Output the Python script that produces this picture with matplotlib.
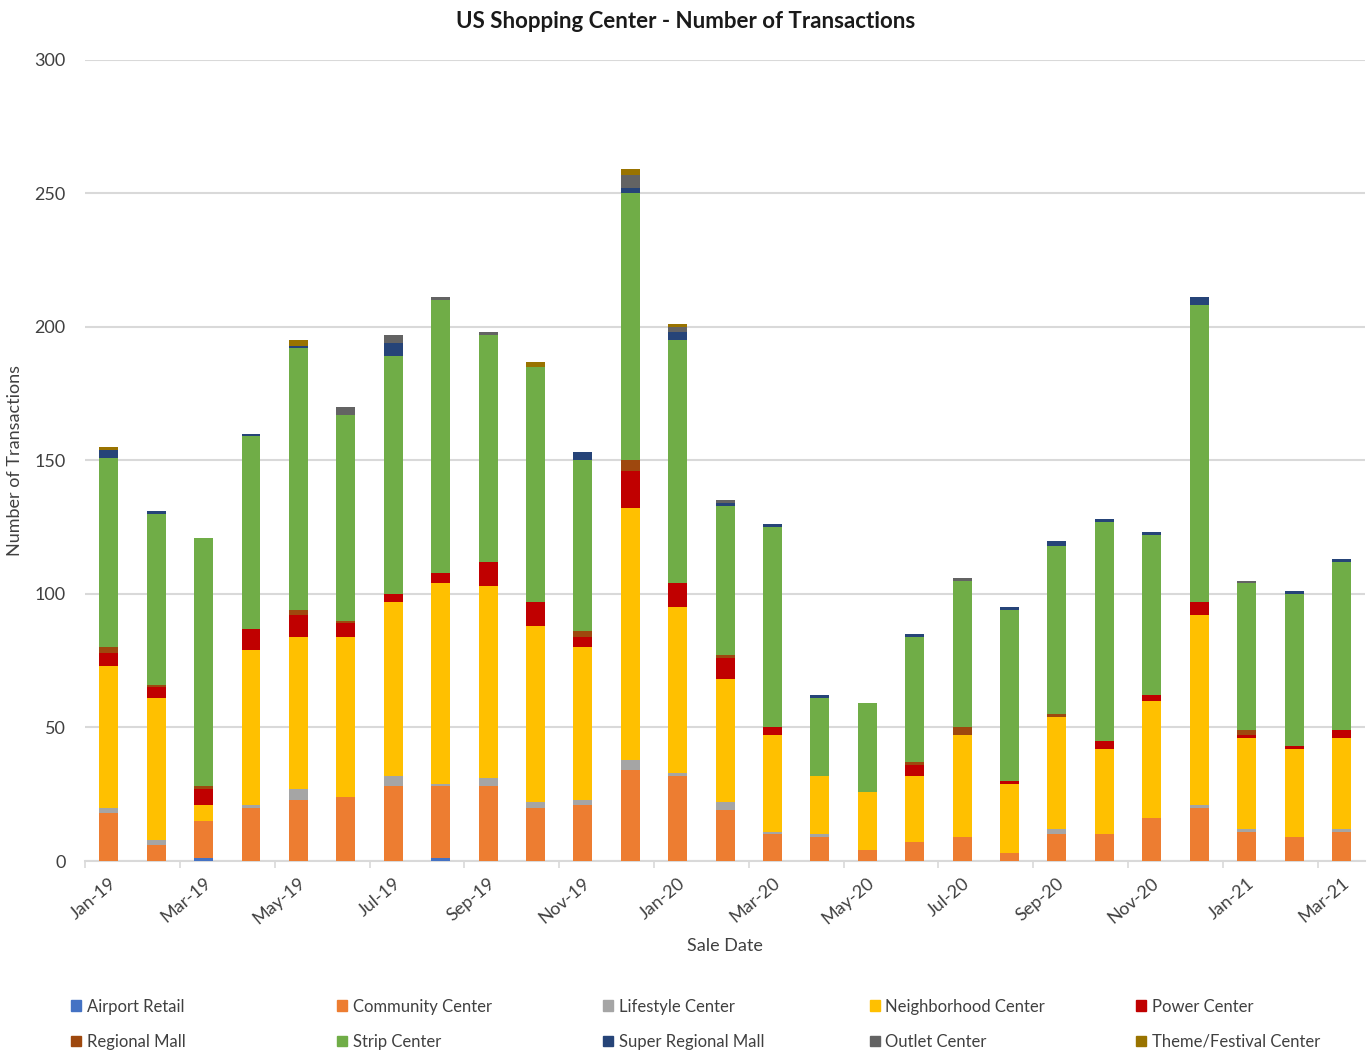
import numpy as np
import matplotlib
matplotlib.use('Agg')
import matplotlib.pyplot as plt
from matplotlib.patches import Patch

plt.rcParams['font.family'] = ['Lato', 'DejaVu Sans']

# meses (eixo x)
meses = ['Jan-19', 'Feb-19', 'Mar-19', 'Apr-19', 'May-19', 'Jun-19', 'Jul-19', 'Aug-19',
         'Sep-19', 'Oct-19', 'Nov-19', 'Dec-19', 'Jan-20', 'Feb-20', 'Mar-20', 'Apr-20',
         'May-20', 'Jun-20', 'Jul-20', 'Aug-20', 'Sep-20', 'Oct-20', 'Nov-20', 'Dec-20',
         'Jan-21', 'Feb-21', 'Mar-21']

# transacoes por tipo (de baixo para cima na pilha)
airport = [0, 0, 1, 0, 0, 0, 0, 1, 0, 0, 0, 0, 0, 0, 0, 0, 0, 0, 0, 0, 0, 0, 0, 0, 0, 0, 0]
community = [18, 6, 14, 20, 23, 24, 28, 27, 28, 20, 21, 34, 32, 19, 10, 9, 4, 7, 9, 3, 10, 10, 16, 20, 11, 9, 11]
lifestyle = [2, 2, 0, 1, 4, 0, 4, 1, 3, 2, 2, 4, 1, 3, 1, 1, 0, 0, 0, 0, 2, 0, 0, 1, 1, 0, 1]
neighborhood = [53, 53, 6, 58, 57, 60, 65, 75, 72, 66, 57, 94, 62, 46, 36, 22, 22, 25, 38, 26, 42, 32, 44, 71, 34, 33, 34]
power = [5, 4, 6, 8, 8, 5, 3, 4, 9, 9, 4, 14, 9, 8, 3, 0, 0, 4, 0, 1, 0, 3, 2, 5, 1, 1, 3]
regional = [2, 1, 1, 0, 2, 1, 0, 0, 0, 0, 2, 4, 0, 1, 0, 0, 0, 1, 3, 0, 1, 0, 0, 0, 2, 0, 0]
strip = [71, 64, 93, 72, 98, 77, 89, 102, 85, 88, 64, 100, 91, 56, 75, 29, 33, 47, 55, 64, 63, 82, 60, 111, 55, 57, 63]
super_regional = [3, 1, 0, 1, 1, 0, 5, 0, 0, 0, 3, 2, 3, 1, 1, 1, 0, 1, 0, 1, 2, 1, 1, 3, 0, 1, 1]
outlet = [0, 0, 0, 0, 0, 3, 3, 1, 1, 0, 0, 5, 2, 1, 0, 0, 0, 0, 1, 0, 0, 0, 0, 0, 1, 0, 0]
theme = [1, 0, 0, 0, 2, 0, 0, 0, 0, 2, 0, 2, 1, 0, 0, 0, 0, 0, 0, 0, 0, 0, 0, 0, 0, 0, 0]

series = [
    ('Airport Retail', airport, '#4472C4'),
    ('Community Center', community, '#ED7D31'),
    ('Lifestyle Center', lifestyle, '#A5A5A5'),
    ('Neighborhood Center', neighborhood, '#FFC000'),
    ('Power Center', power, '#C00000'),
    ('Regional Mall', regional, '#9E480E'),
    ('Strip Center', strip, '#70AD47'),
    ('Super Regional Mall', super_regional, '#264478'),
    ('Outlet Center', outlet, '#636363'),
    ('Theme/Festival Center', theme, '#997300'),
]

texto = '#404040'

fig = plt.figure(figsize=(13.72, 10.53), dpi=100)
ax = fig.add_axes([0.062, 0.1823, 0.933, 0.761])

x = np.arange(len(meses))
base = np.zeros(len(meses))
for nome, vals, cor in series:
    ax.bar(x, vals, width=0.4, bottom=base, color=cor, label=nome, zorder=3)
    base = base + np.array(vals)

ax.set_xlim(-0.5, len(meses) - 0.5)
ax.set_ylim(0, 300)
ax.set_yticks(range(0, 301, 50))
ax.grid(axis='y', color='#d9d9d9', linewidth=1.5, zorder=0)

# ticks do eixo x: rotulos a cada 2 meses, marcas entre categorias
ax.set_xticks(x[::2])
ax.set_xticklabels(meses[::2], rotation=40, ha='right', rotation_mode='anchor')
ax.set_xticks(np.arange(-0.5, len(meses), 2), minor=True)
ax.tick_params(axis='x', which='major', length=0, pad=10, labelsize=13, labelcolor=texto)
ax.tick_params(axis='x', which='minor', length=5, color='#d9d9d9', width=1.2)
ax.tick_params(axis='y', length=0, pad=14, labelsize=13, labelcolor=texto)

for s in ['top', 'right', 'left']:
    ax.spines[s].set_visible(False)
ax.spines['bottom'].set_color('#d9d9d9')
ax.spines['bottom'].set_linewidth(1.5)

ax.set_ylabel('Number of Transactions', fontsize=13, color=texto, labelpad=8)
ax.set_xlabel('Sale Date', fontsize=13, color=texto, labelpad=8)
fig.suptitle('US Shopping Center - Number of Transactions', fontsize=16, fontweight='bold',
             color='#1a1a1a', y=0.99)

# legenda: 5 colunas de 2 itens, colunas igualmente espacadas
handles = [Patch(color=cor, label=nome) for nome, vals, cor in series]
col_x = [0.047, 0.241, 0.435, 0.629, 0.823]
for i, cx in enumerate(col_x):
    par = [handles[i], handles[i + 5]]
    leg = fig.legend(par, [h.get_label() for h in par], loc='upper left',
                     bbox_to_anchor=(cx, 0.058), frameon=False, fontsize=12,
                     handlelength=0.6, handleheight=0.6, handletextpad=0.35,
                     labelspacing=1.15, labelcolor=texto, borderaxespad=0)

plt.savefig('out.png', dpi=100)
